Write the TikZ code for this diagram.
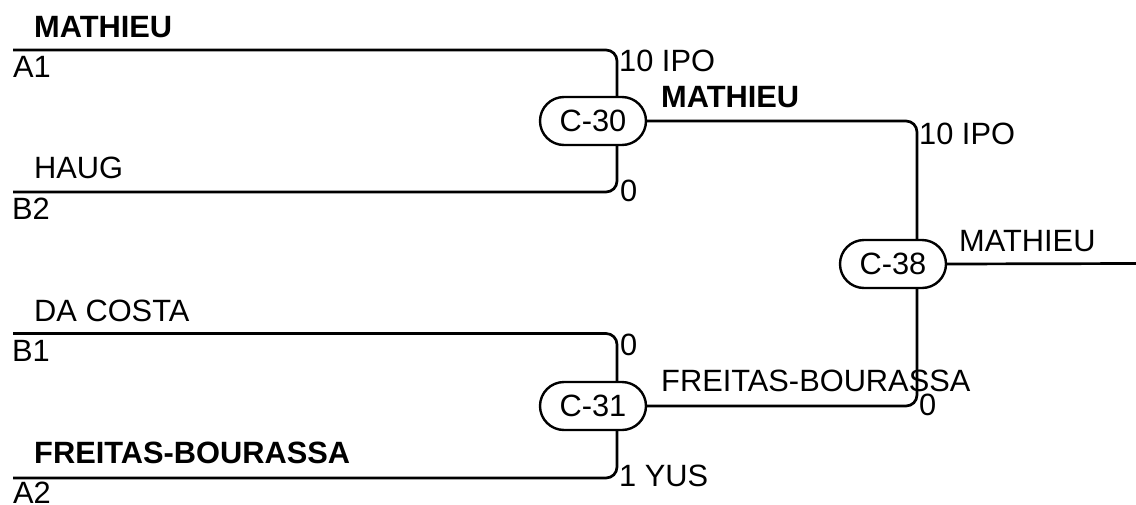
\documentclass[tikz,border=0pt]{standalone}
\usepackage{fontspec}
\setmainfont{Liberation Sans}
\usetikzlibrary{shapes.misc,backgrounds}
\begin{document}
\begin{tikzpicture}[x=1pt,y=-1pt,
  every node/.style={font=\fontsize{30.8pt}{36pt}\selectfont},
  match/.style={rounded rectangle, draw, line width=2.4pt, fill=white, minimum width=106pt, minimum height=48pt, inner sep=0pt},
  lbl/.style={anchor=base west, inner sep=0pt},
  win/.style={lbl, font=\fontsize{30.8pt}{36pt}\selectfont\bfseries},
  wire/.style={line width=2.7pt, rounded corners=11pt}]
\useasboundingbox (0,0) rectangle (1136,504);
% matches
\node[match] (c30) at (593,121) {C-30};
\node[match] (c31) at (593,406) {C-31};
\node[match] (c38) at (893,264) {C-38};
% slot starts
\coordinate (a1) at (13,50);
\coordinate (b2) at (13,192);
\coordinate (b1) at (13,333.5);
\coordinate (a2) at (13,478);
\coordinate (out) at (1136,263.5);
% wires
\begin{scope}[on background layer]
\draw[wire] (a1) -| ([xshift=24pt]c30.center);
\draw[wire] (b2) -| ([xshift=24pt]c30.center);
\draw[wire] (b1) -| ([xshift=24pt]c31.center);
\draw[wire] (a2) -| ([xshift=24pt]c31.center);
\draw[wire] (c30.east) -| ([xshift=24pt]c38.center);
\draw[wire] (c31.east) -| ([xshift=24pt]c38.center);
\draw[wire] (c38.east) -- (out);
\end{scope}
% left texts
\node[win] (n1) at (34,37) {MATHIEU};
\node[lbl] (s1) at (13,77) {A1};
\node[lbl] (n2) at (34,178.3) {HAUG};
\node[lbl] (s2) at (12,219) {B2};
\node[lbl] (n3) at (34,321.7) {DA COSTA};
\node[lbl] (s3) at (12,361.7) {B1};
\node[win] (n4) at (34,463.3) {FREITAS-BOURASSA};
\node[lbl] (s4) at (13,503) {A2};
% scores
\node[lbl] (r1) at (619,71.7) {10 IPO};
\node[lbl] (r2) at (620,201.7) {0};
\node[lbl] (r3) at (620,355) {0};
\node[lbl] (r4) at (619,486.7) {1 YUS};
\node[win] (w30) at (661,107) {MATHIEU};
\node[lbl] (w31) at (661,391.7) {FREITAS-BOURASSA};
\node[lbl] (r5) at (919,144) {10 IPO};
\node[lbl] (r6) at (919,415) {0};
\node[lbl] (w38) at (959,251.7) {MATHIEU};
\end{tikzpicture}
\end{document}
